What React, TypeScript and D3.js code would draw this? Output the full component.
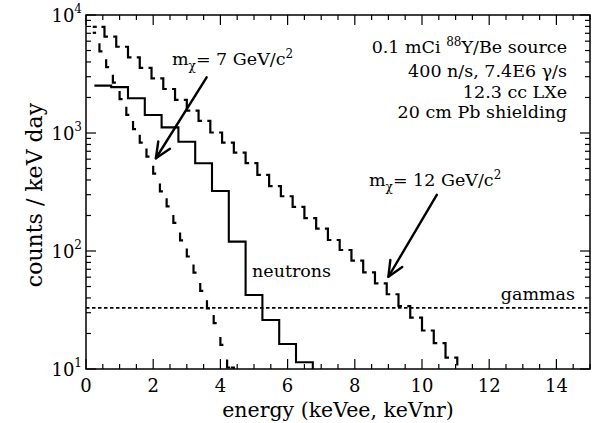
import React from 'react';
import * as d3 from 'd3';

// ---------- data ----------
const neutronEdges = [0.25, 0.75, 1.25, 1.75, 2.25, 2.75, 3.25, 3.75, 4.25, 4.75, 5.25, 5.75, 6.25, 6.75];
const neutronCounts = [2520, 2450, 1968, 1422, 1117, 844, 554, 322, 120, 42.4, 26, 16.3, 11.4];

const wimp7Edges = [0.2, 0.4, 0.6, 0.8, 1.0, 1.2, 1.4, 1.6, 1.8, 2.0, 2.2, 2.4, 2.6, 2.8, 3.0, 3.2, 3.4, 3.6, 3.8, 4.0, 4.2, 4.4];
const wimp7Counts = [7070, 4920, 3610, 2670, 1937, 1425, 1079, 828, 631, 452, 320, 239, 173, 123, 89.8, 65.6, 45.9, 32.7, 24.5, 16.0, 10.3];

const wimp12Edges = [0.2, 0.55, 0.9, 1.25, 1.6, 1.95, 2.3, 2.65, 3.0, 3.35, 3.7, 4.05, 4.4, 4.75, 5.1, 5.45, 5.8, 6.15, 6.5, 6.85, 7.2, 7.55, 7.9, 8.25, 8.6, 8.95, 9.3, 9.65, 10.0, 10.35, 10.7, 11.05];
const wimp12Counts = [7940, 6550, 5380, 4380, 3570, 2900, 2360, 1905, 1550, 1265, 1010, 830, 682, 555, 442, 355, 291, 237, 190, 155, 124, 102, 82.8, 65.9, 53.1, 43.0, 34.1, 27.2, 21.2, 16.6, 12.5];

const gammaLevel = 33;

const xTickLabels = [0, 2, 4, 6, 8, 10, 12, 14];
const yDecades = [10, 100, 1000, 10000];
const yExponents = ['1', '2', '3', '4'];

const infoLines = ['0.1 mCi |88|Y/Be source', '400 n/s, 7.4E6 γ/s', '12.3 cc LXe', '20 cm Pb shielding'];

// annotation anchors in data coordinates: [x keV, counts]
const arrow7 = { from: [3.59, 2965], to: [2.08, 611] };
const arrow12 = { from: [10.44, 299], to: [9.0, 60.5] };

// ---------- layout ----------
const W = 592, H = 423;
const L = 86, R = 590, T = 15, B = 369;
const FONT = '"DejaVu Serif", serif';

function stepPath(edges: number[], vals: number[], x: any, y: any, floor: number) {
  const pts: [number, number][] = vals.map((v, i) => [edges[i], v]);
  pts.push([edges[edges.length - 1], vals[vals.length - 1]]);
  pts.push([edges[edges.length - 1], floor]);
  const line = d3.line<[number, number]>().x(d => x(d[0])).y(d => y(d[1])).curve(d3.curveStepAfter);
  return line(pts) as string;
}

// A dashed histogram drawn as one dash per step: each dash is cut from the local
// stretch of the step line (mid-bin -> edge -> drop -> mid-next-bin).
function DashedHist({ edges, vals, x, y, floor, mode }: any) {
  const segs: { d: string; start: number; len: number }[] = [];
  const n = vals.length;
  const mid = (i: number) => (x(edges[i]) + x(edges[i + 1])) / 2;
  segs.push({ d: `M${x(edges[0])},${y(vals[0])}H${mid(0)}`, start: 0, len: 4 });
  for (let i = 0; i < n - 1; i++) {
    const xe = x(edges[i + 1]);
    const y0 = y(vals[i]), y1 = y(vals[i + 1]);
    const half = xe - mid(i);
    const drop = y1 - y0;
    const d = `M${mid(i)},${y0}H${xe}V${y1}H${mid(i + 1)}`;
    if (mode === 'steep') segs.push({ d, start: half + drop - 8, len: 11 });
    else segs.push({ d, start: half - 3, len: drop + 6.5 });
  }
  const xl = x(edges[n]);
  const yl = y(vals[n - 1]);
  const halfL = xl - mid(n - 1);
  segs.push({ d: `M${mid(n - 1)},${yl}H${xl}V${y(floor)}`, start: halfL - 3, len: 11 });
  return (
    <g fill="none" stroke="#000" strokeWidth={2.2}>
      {segs.map((s, i) => (
        <path key={i} d={s.d} strokeDasharray={`${s.len} 2000`} strokeDashoffset={-s.start} />
      ))}
    </g>
  );
}

function Arrow({ x1, y1, x2, y2 }: { x1: number; y1: number; x2: number; y2: number }) {
  const ang = Math.atan2(y1 - y2, x1 - x2);
  const len = 17, spread = (24 * Math.PI) / 180;
  const a = [x2 + len * Math.cos(ang + spread), y2 + len * Math.sin(ang + spread)];
  const b = [x2 + len * Math.cos(ang - spread), y2 + len * Math.sin(ang - spread)];
  return (
    <g stroke="#000" strokeWidth={2.4} fill="none" strokeLinecap="round" strokeLinejoin="round">
      <line x1={x1} y1={y1} x2={x2} y2={y2} />
      <polyline points={`${a[0]},${a[1]} ${x2},${y2} ${b[0]},${b[1]}`} />
    </g>
  );
}

export default function App() {
  const x = d3.scaleLinear().domain([0, 15]).range([L, R]);
  const y = d3.scaleLog().domain([10, 10000]).range([B, T]);

  const xMinor = d3.range(0, 15.001, 0.5);
  const yMinor: number[] = [];
  for (let d = 10; d < 10000; d *= 10) for (let k = 2; k <= 9; k++) yMinor.push(d * k);

  const isMajorX = (v: number) => Math.abs(v / 2 - Math.round(v / 2)) < 1e-6;

  return (
    <svg width={W} height={H} style={{ position: 'absolute', left: 0, top: 0, background: '#fff' }} fontFamily={FONT}>
      <rect x={0} y={0} width={W} height={H} fill="#fff" />
      <defs>
        <clipPath id="plot">
          <rect x={L} y={T} width={R - L} height={B - T} />
        </clipPath>
      </defs>

      {/* curves */}
      <g clipPath="url(#plot)" fill="none" stroke="#000">
        <line x1={x(0)} x2={x(15)} y1={y(gammaLevel)} y2={y(gammaLevel)} strokeWidth={1.7} strokeDasharray="3.5 2.5" />
        <path d={stepPath(neutronEdges, neutronCounts, x, y, 10)} strokeWidth={2.1} />
        <DashedHist edges={wimp7Edges} vals={wimp7Counts} x={x} y={y} floor={10} mode="steep" />
        <DashedHist edges={wimp12Edges} vals={wimp12Counts} x={x} y={y} floor={10} mode="shallow" />
      </g>

      {/* frame */}
      <rect x={L} y={T} width={R - L} height={B - T} fill="none" stroke="#000" strokeWidth={1.5} />

      {/* ticks */}
      <g stroke="#000" strokeWidth={1.2}>
        {xMinor.map(v => {
          const len = isMajorX(v) ? 10 : 5;
          return (
            <g key={'xt' + v}>
              <line x1={x(v)} x2={x(v)} y1={B} y2={B - len} />
              <line x1={x(v)} x2={x(v)} y1={T} y2={T + len} />
            </g>
          );
        })}
        {yDecades.map(v => (
          <g key={'yM' + v}>
            <line x1={L} x2={L + 10} y1={y(v)} y2={y(v)} />
            <line x1={R} x2={R - 10} y1={y(v)} y2={y(v)} />
          </g>
        ))}
        {yMinor.map(v => (
          <g key={'ym' + v}>
            <line x1={L} x2={L + 5} y1={y(v)} y2={y(v)} />
            <line x1={R} x2={R - 5} y1={y(v)} y2={y(v)} />
          </g>
        ))}
      </g>

      {/* tick labels */}
      <g fontSize={18} fill="#000">
        {xTickLabels.map(v => (
          <text key={'xl' + v} x={x(v)} y={392} textAnchor="middle">{v}</text>
        ))}
        {yDecades.map((v, i) => (
          <text key={'yl' + v} x={L - 4} y={y(v) + 7} textAnchor="end">
            10<tspan dy={-9} fontSize={12}>{yExponents[i]}</tspan>
          </text>
        ))}
      </g>

      {/* axis titles */}
      <text x={(L + R) / 2} y={417} textAnchor="middle" fontSize={20.5}>energy (keVee, keVnr)</text>
      <text transform={`translate(42,195) rotate(-90)`} textAnchor="middle" fontSize={22}>counts / keV day</text>

      {/* info block */}
      <g fontSize={17.5} textAnchor="end">
        {infoLines.map((s, i) => {
          const ys = [52.5, 76.5, 97.5, 118][i];
          const parts = s.split('|');
          return (
            <text key={'info' + i} x={567} y={ys}>
              {parts.length === 1 ? s : (
                <>
                  {parts[0]}
                  <tspan dy={-7} fontSize={12}>{parts[1]}</tspan>
                  <tspan dy={7}>{parts[2]}</tspan>
                </>
              )}
            </text>
          );
        })}
      </g>

      {/* labels */}
      <g fontSize={17.5}>
        <text x={172} y={65}>
          m<tspan dy={5} fontSize={12}>χ</tspan><tspan dy={-5}>= 7 GeV/c</tspan><tspan dy={-7} fontSize={12}>2</tspan>
        </text>
        <text x={369} y={186}>
          m<tspan dy={5} fontSize={12}>χ</tspan><tspan dy={-5}>= 12 GeV/c</tspan><tspan dy={-7} fontSize={12}>2</tspan>
        </text>
        <text x={252} y={277}>neutrons</text>
        <text x={575} y={300} textAnchor="end">gammas</text>
      </g>

      <Arrow x1={x(arrow7.from[0])} y1={y(arrow7.from[1])} x2={x(arrow7.to[0])} y2={y(arrow7.to[1])} />
      <Arrow x1={x(arrow12.from[0])} y1={y(arrow12.from[1])} x2={x(arrow12.to[0])} y2={y(arrow12.to[1])} />
    </svg>
  );
}
